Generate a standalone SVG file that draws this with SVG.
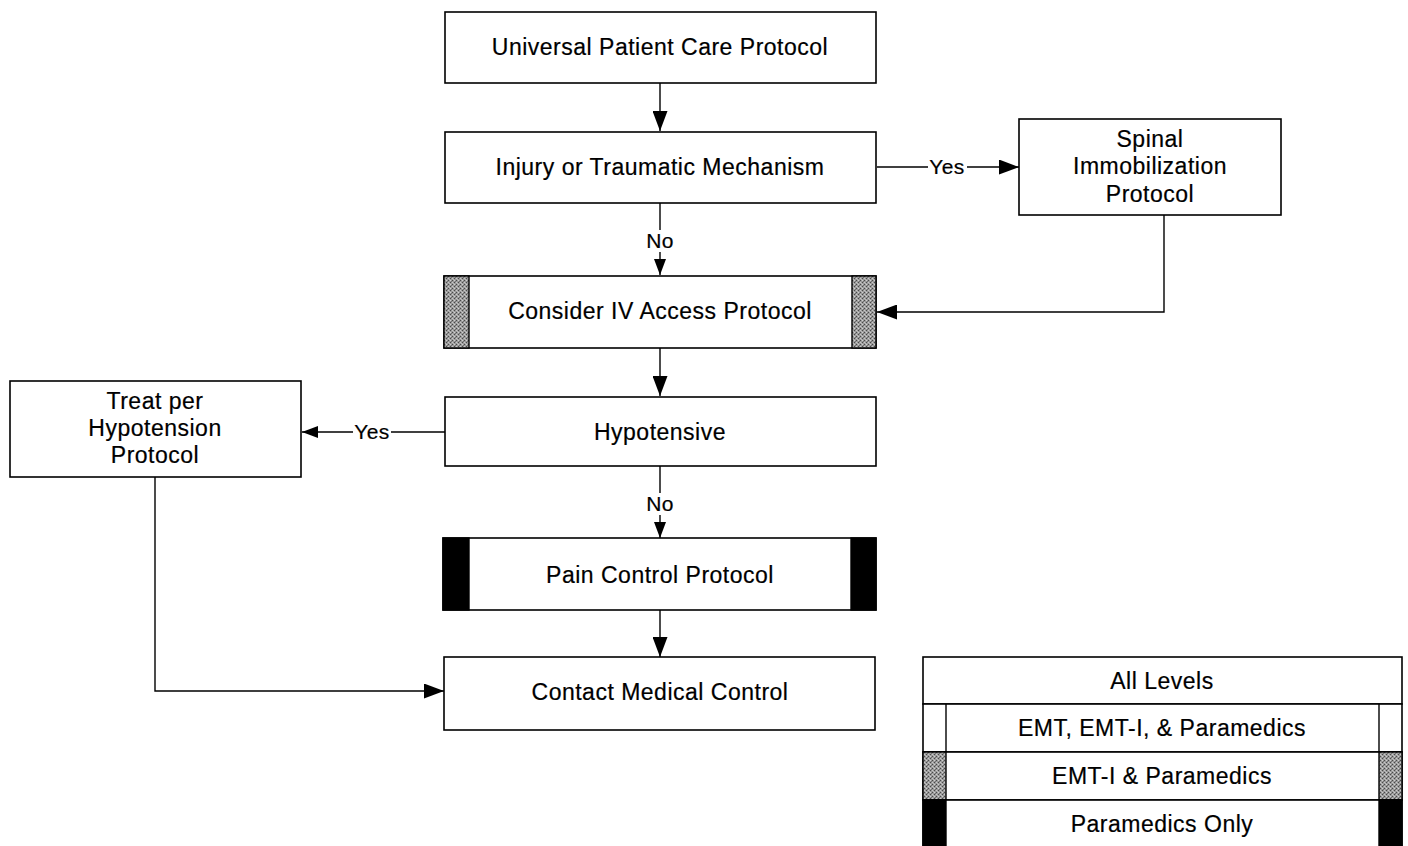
<svg xmlns="http://www.w3.org/2000/svg" width="1408" height="846" viewBox="0 0 1408 846">
<style>
.box{fill:#fff;stroke:#000;stroke-width:1.6}
.t{font-family:"Liberation Sans",Arial,sans-serif;font-size:23px;letter-spacing:0.5px;fill:#000;stroke:#000;stroke-width:0.2;text-anchor:middle}
.lbl{font-family:"Liberation Sans",Arial,sans-serif;font-size:21px;letter-spacing:0.4px;fill:#000;stroke:#000;stroke-width:0.2;text-anchor:middle}
.ln{fill:none;stroke:#000;stroke-width:1.4}
.gray{fill:url(#stip);stroke:#000;stroke-width:1.4}
.blk{fill:#000;stroke:#000;stroke-width:1.4}
</style>
<defs>
<pattern id="stip" width="4" height="4" patternUnits="userSpaceOnUse">
<rect width="4" height="4" fill="#9a9a9a"/>
<rect x="0" y="0" width="1" height="1" fill="#4a4a4a"/>
<rect x="2" y="2" width="1" height="1" fill="#4a4a4a"/>
<rect x="2" y="0" width="1" height="1" fill="#d0d0d0"/>
<rect x="0" y="2" width="1" height="1" fill="#c8c8c8"/>
<rect x="3" y="1" width="1" height="1" fill="#707070"/>
<rect x="1" y="3" width="1" height="1" fill="#b8b8b8"/>
</pattern>
<marker id="ah" viewBox="0 0 20 15" refX="20" refY="7.5" markerWidth="20" markerHeight="15" markerUnits="userSpaceOnUse" orient="auto">
<path d="M0,0 L20,7.5 L0,15 Z" fill="#000"/>
</marker>
<marker id="as" viewBox="0 0 16 12" refX="16" refY="6" markerWidth="16" markerHeight="12" markerUnits="userSpaceOnUse" orient="auto">
<path d="M0,0 L16,6 L0,12 Z" fill="#000"/>
</marker>
</defs>
<rect width="1408" height="846" fill="#fff"/>
<g id="connectors">
<line class="ln" x1="660" y1="83" x2="660" y2="131" marker-end="url(#ah)"/>
<line class="ln" x1="877" y1="167" x2="928" y2="167"/>
<line class="ln" x1="967" y1="167" x2="1019" y2="167" marker-end="url(#ah)"/>
<text class="lbl" x="947" y="174">Yes</text>
<line class="ln" x1="660" y1="203" x2="660" y2="230"/>
<text class="lbl" x="660" y="248">No</text>
<line class="ln" x1="660" y1="252" x2="660" y2="275" marker-end="url(#as)"/>
<polyline class="ln" points="1164,215 1164,312 877,312" marker-end="url(#ah)"/>
<line class="ln" x1="660" y1="348" x2="660" y2="396" marker-end="url(#ah)"/>
<line class="ln" x1="445" y1="432" x2="391" y2="432"/>
<line class="ln" x1="353" y1="432" x2="302" y2="432" marker-end="url(#as)"/>
<text class="lbl" x="372" y="439">Yes</text>
<line class="ln" x1="660" y1="466" x2="660" y2="493"/>
<text class="lbl" x="660" y="511">No</text>
<line class="ln" x1="660" y1="515" x2="660" y2="538" marker-end="url(#as)"/>
<line class="ln" x1="660" y1="610" x2="660" y2="657" marker-end="url(#ah)"/>
<polyline class="ln" points="155,477 155,691 444,691" marker-end="url(#ah)"/>
</g>
<g id="universal">
<rect class="box" x="445" y="12" width="431" height="71"/>
<text class="t" x="660" y="55">Universal Patient Care Protocol</text>
</g>
<g id="injury">
<rect class="box" x="445" y="132" width="431" height="71"/>
<text class="t" x="660" y="175">Injury or Traumatic Mechanism</text>
</g>
<g id="spinal">
<rect class="box" x="1019" y="119" width="262" height="96"/>
<text class="t" x="1150" y="147">Spinal</text>
<text class="t" x="1150" y="174">Immobilization</text>
<text class="t" x="1150" y="202">Protocol</text>
</g>
<g id="iv">
<rect class="box" x="444" y="276" width="432" height="72"/>
<rect class="gray" x="444" y="276" width="25" height="72"/>
<rect class="gray" x="852" y="276" width="24" height="72"/>
<text class="t" x="660" y="319">Consider IV Access Protocol</text>
</g>
<g id="hypotensive">
<rect class="box" x="445" y="397" width="431" height="69"/>
<text class="t" x="660" y="440">Hypotensive</text>
</g>
<g id="treat">
<rect class="box" x="10" y="381" width="291" height="96"/>
<text class="t" x="155" y="409">Treat per</text>
<text class="t" x="155" y="436">Hypotension</text>
<text class="t" x="155" y="463">Protocol</text>
</g>
<g id="pain">
<rect class="box" x="443" y="538" width="433" height="72"/>
<rect class="blk" x="443" y="538" width="26" height="72"/>
<rect class="blk" x="851" y="538" width="25" height="72"/>
<text class="t" x="660" y="583">Pain Control Protocol</text>
</g>
<g id="contact">
<rect class="box" x="444" y="657" width="431" height="73"/>
<text class="t" x="660" y="700">Contact Medical Control</text>
</g>
<g id="legend">
<rect class="box" x="923" y="657" width="479" height="47"/>
<text class="t" x="1162" y="689">All Levels</text>
<rect class="box" x="923" y="704" width="479" height="48"/>
<line class="ln" x1="946" y1="704" x2="946" y2="752"/>
<line class="ln" x1="1379" y1="704" x2="1379" y2="752"/>
<text class="t" x="1162" y="736">EMT, EMT-I, &amp; Paramedics</text>
<rect class="box" x="923" y="752" width="479" height="48"/>
<rect class="gray" x="923" y="752" width="23" height="48"/>
<rect class="gray" x="1379" y="752" width="23" height="48"/>
<text class="t" x="1162" y="784">EMT-I &amp; Paramedics</text>
<rect class="box" x="923" y="800" width="479" height="50"/>
<rect class="blk" x="923" y="800" width="23" height="50"/>
<rect class="blk" x="1379" y="800" width="23" height="50"/>
<text class="t" x="1162" y="832">Paramedics Only</text>
</g>
</svg>
